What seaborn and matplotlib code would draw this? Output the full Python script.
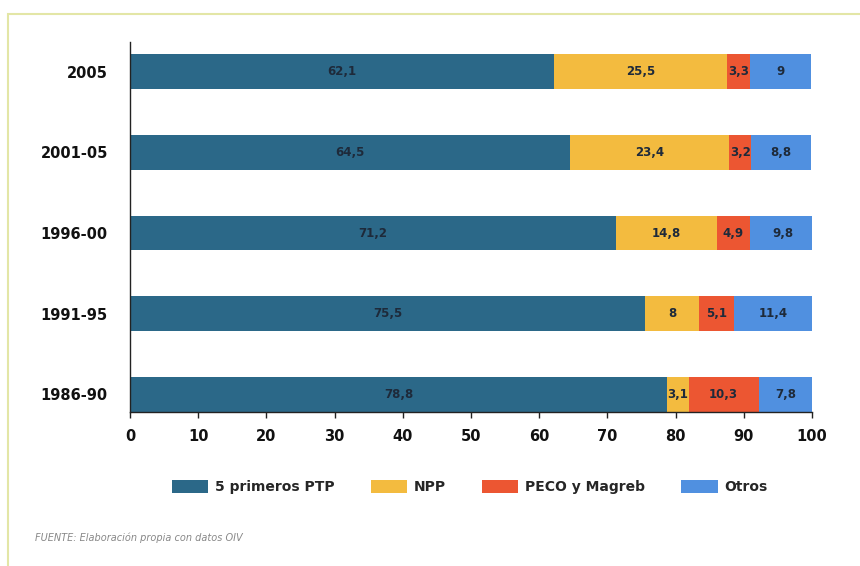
import matplotlib
matplotlib.use("Agg")
import matplotlib.pyplot as plt
import seaborn as sns
import pandas as pd
import numpy as np
from matplotlib.patches import Rectangle, Patch

periods = ["2005", "2001-05", "1996-00", "1991-95", "1986-90"]
series_names = ["5 primeros PTP", "NPP", "PECO y Magreb", "Otros"]
ptp = [62.1, 64.5, 71.2, 75.5, 78.8]
npp = [25.5, 23.4, 14.8, 8, 3.1]
peco = [3.3, 3.2, 4.9, 5.1, 10.3]
otros = [9, 8.8, 9.8, 11.4, 7.8]
labels = [
    ["62,1", "64,5", "71,2", "75,5", "78,8"],
    ["25,5", "23,4", "14,8", "8", "3,1"],
    ["3,3", "3,2", "4,9", "5,1", "10,3"],
    ["9", "8,8", "9,8", "11,4", "7,8"],
]
colors = ["#2b6888", "#f3bb3f", "#ec5632", "#5090e0"]

sns.set_theme(style="white")
plt.rcParams["font.family"] = ["DejaVu Sans"]

fig = plt.figure(figsize=(8.6, 5.66), dpi=100)
# frame
fig.patches.append(Rectangle((8 / 860, -0.01), 1.0, 1 - 14 / 566 + 0.01, transform=fig.transFigure,
                             fill=False, edgecolor="#e3e6a6", linewidth=1.5))

ax = fig.add_axes([130 / 860, 1 - 412 / 566, 682 / 860, 370 / 566])

vals = [ptp, npp, peco, otros]
cum = np.cumsum(np.array(vals), axis=0)
for i in range(len(vals) - 1, -1, -1):
    df = pd.DataFrame({"period": periods, "value": cum[i]})
    sns.barplot(data=df, x="value", y="period", order=periods, color=colors[i],
                orient="h", width=0.43, ax=ax, saturation=1, edgecolor="none")

for i in range(len(vals)):
    for j, p in enumerate(periods):
        left = cum[i][j] - vals[i][j]
        ax.text(left + vals[i][j] / 2, j, labels[i][j], ha="center", va="center",
                fontsize=8.5, fontweight="bold", color="#1e2a3a")

ax.set_xlim(0, 100)
ax.set_ylim(4.22, -0.37)
ax.set_xticks(range(0, 101, 10))
ax.set_xlabel("")
ax.set_ylabel("")
for s in ["top", "right"]:
    ax.spines[s].set_visible(False)
for s in ["left", "bottom"]:
    ax.spines[s].set_color("#222222")
    ax.spines[s].set_linewidth(1.0)
ax.tick_params(axis="x", length=4, width=1, color="#222222", labelsize=10.5, pad=8, bottom=True)
ax.tick_params(axis="y", length=0, labelsize=10.5, pad=16)
for t in ax.get_xticklabels() + ax.get_yticklabels():
    t.set_fontweight("bold")
    t.set_color("#111111")

handles = [Patch(facecolor=c, edgecolor="none") for c in colors]
leg = fig.legend(handles, series_names, loc="center", bbox_to_anchor=(470 / 860, 1 - 487 / 566),
                 ncol=4, frameon=False, handlelength=2.6, handleheight=1.1,
                 columnspacing=2.6, handletextpad=0.5, prop={"size": 10, "weight": "bold"})

fig.text(35 / 860, 1 - 538 / 566, "FUENTE: Elaboración propia con datos OIV", fontsize=7,
         style="italic", color="#888888", va="center")

fig.savefig("out.png", dpi=100)
